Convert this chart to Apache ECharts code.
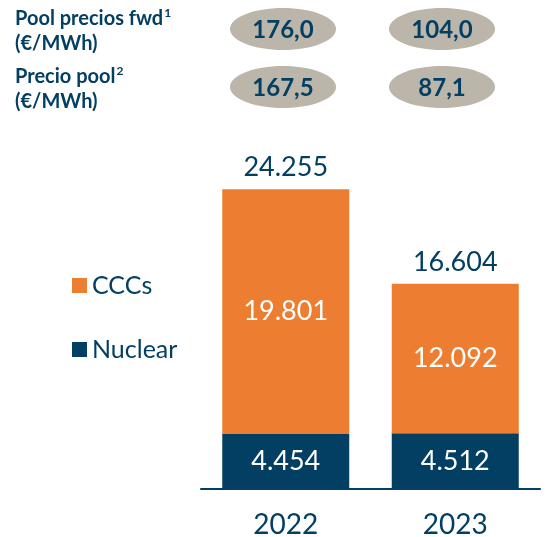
<!DOCTYPE html>
<html>
<head>
<meta charset="utf-8">
<script src="https://cdn.jsdelivr.net/npm/echarts@6/dist/echarts.min.js"></script>
<style>
  html, body { margin: 0; padding: 0; background: #fff; }
  #chart { width: 549px; height: 537px; }
</style>
</head>
<body>
<div id="chart"></div>
<script>
// data
const years = ['2022', '2023'];
const nuclear = [4454, 4512];
const cccs = [19801, 12092];
const totals = [24255, 16604];
const fwdPrices = ['176,0', '104,0'];
const poolPrices = ['167,5', '87,1'];

const navy = '#033f63';
const orange = '#ed7d31';
const pill = '#bcb5aa';
const font = 'Lato';

const fmt = v => v.toLocaleString('de-DE');

const chart = echarts.init(document.getElementById('chart'));

// header rows: label + two grey ellipses with the prices
const rows = [
  {label: 'Pool precios fwd', sup: '1', values: fwdPrices, y: 29},
  {label: 'Precio pool', sup: '2', values: poolPrices, y: 87}
];
const pillX = [283, 442];
let graphic = [];
rows.forEach(r => {
  graphic.push({
    type: 'text', left: 15, top: r.y - 22,
    style: {
      text: '{b|' + r.label + '}{s|' + r.sup + '}\n{b|(€/MWh)}',
      fill: navy,
      rich: {
        b: {font: 'bold 20px ' + font, fill: navy, lineHeight: 25},
        s: {font: 'bold 12px ' + font, fill: navy, lineHeight: 25, padding: [0, 0, 12, 1]}
      }
    }
  });
  r.values.forEach((v, i) => {
    graphic.push({
      type: 'ellipse',
      shape: {cx: pillX[i], cy: r.y, rx: 53, ry: 21},
      style: {fill: pill}
    });
    graphic.push({
      type: 'text', x: pillX[i], y: r.y + 1,
      style: {text: v, fill: navy, font: 'bold 24px ' + font, align: 'center', verticalAlign: 'middle'}
    });
  });
});

const option = {
  animation: false,
  textStyle: {fontFamily: font},
  graphic: graphic,
  legend: {
    data: ['CCCs', 'Nuclear'],
    orient: 'vertical',
    left: 67,
    top: 268,
    icon: 'rect',
    itemWidth: 15,
    itemHeight: 15,
    itemGap: 39,
    textStyle: {color: navy, fontSize: 25, lineHeight: 25, fontFamily: font}
  },
  grid: {left: 201, right: 9, top: 180, bottom: 48, outerBoundsMode: 'none'},
  xAxis: {
    type: 'category',
    data: years,
    axisLine: {lineStyle: {color: navy, width: 2}},
    axisTick: {show: false},
    axisLabel: {color: navy, fontSize: 28, margin: 22, fontFamily: font}
  },
  yAxis: {
    type: 'value',
    min: 0,
    max: 25000,
    show: false,
    splitLine: {show: false}
  },
  series: [
    {
      name: 'Nuclear',
      type: 'bar',
      stack: 'total',
      barWidth: 127,
      data: nuclear,
      itemStyle: {color: navy},
      label: {show: true, position: 'inside', color: '#fff', fontSize: 27, fontFamily: font, formatter: p => fmt(p.value)}
    },
    {
      name: 'CCCs',
      type: 'bar',
      stack: 'total',
      data: cccs,
      itemStyle: {color: orange},
      label: {show: true, position: 'inside', color: '#fff', fontSize: 27, fontFamily: font, formatter: p => fmt(p.value)}
    },
    {
      name: 'Total',
      type: 'scatter',
      data: totals,
      symbolSize: 0,
      silent: true,
      itemStyle: {color: 'rgba(0,0,0,0)', opacity: 1},
      label: {show: true, position: 'top', distance: 8, color: navy, fontSize: 27, fontFamily: font, formatter: p => fmt(p.value)}
    }
  ]
};
chart.setOption(option);
</script>
</body>
</html>
